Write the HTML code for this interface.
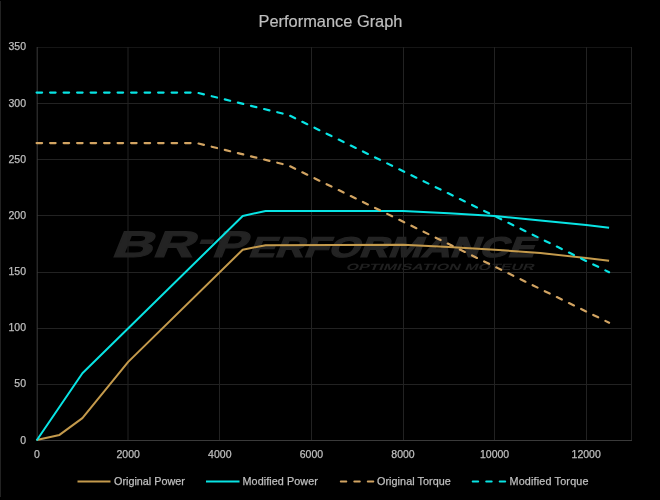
<!DOCTYPE html>
<html><head><meta charset="utf-8">
<style>
html,body{margin:0;padding:0;background:#000;}
body{width:660px;height:500px;overflow:hidden;position:relative;font-family:"Liberation Sans",sans-serif;}
svg{position:absolute;left:0;top:0;will-change:transform;}
text{font-family:"Liberation Sans",sans-serif;}
</style></head>
<body>
<svg width="660" height="500" viewBox="0 0 660 500">
<rect x="0" y="0" width="660" height="500" fill="#000"/>
<rect x="0" y="1" width="1" height="496" fill="#222"/>
<!-- title -->
<text x="330.5" y="27.3" text-anchor="middle" font-size="16.4" fill="#bfbfbf" stroke="#bfbfbf" stroke-width="0.2">Performance Graph</text>
<!-- watermark -->
<g fill="#232323" stroke="#232323" stroke-width="1.1" font-weight="bold">
<g transform="translate(0,256.5) skewX(-22)">
<text x="110.5" y="0" font-size="37" textLength="82" lengthAdjust="spacingAndGlyphs">BR</text>
<rect x="194.5" y="-17" width="13" height="4.6" stroke="none"/>
<text x="211" y="0" font-size="37" textLength="33" lengthAdjust="spacingAndGlyphs">P</text>
<text x="247.5" y="0" font-size="28.5" textLength="286" lengthAdjust="spacingAndGlyphs">ERFORMANCE</text></g>
<g transform="translate(0,269.5) skewX(-22)" stroke="none" fill="#202020"><text x="345.5" y="0" font-size="9.2" textLength="188" lengthAdjust="spacingAndGlyphs">OPTIMISATION MOTEUR</text></g>
</g>
<!-- grid -->
<g stroke="#222" stroke-width="1" fill="none">
<path d="M37 47.5H632" stroke="#151515"/>
<path d="M37 103.5H632M37 159.5H632M37 215.5H632M37 272.5H632M37 328.5H632M37 384.5H632"/>
<path d="M128 47V440M219.5 47V440M311.5 47V440M403.5 47V440M494.5 47V440M586.5 47V440M631.5 47V440"/>
</g>
<g stroke="#3a3a3a" stroke-width="1" fill="none">
<path d="M37.2 47V441M36.5 440.5H632"/>
</g>
<!-- axis labels -->
<g font-size="10.5" fill="#bfbfbf" stroke="#bfbfbf" stroke-width="0.25" text-anchor="end">
<text x="26" y="50.4">350</text>
<text x="26" y="106.5">300</text>
<text x="26" y="162.5">250</text>
<text x="26" y="218.5">200</text>
<text x="26" y="275">150</text>
<text x="26" y="331">100</text>
<text x="26" y="387">50</text>
<text x="26" y="444">0</text>
</g>
<g font-size="10.5" fill="#bfbfbf" stroke="#bfbfbf" stroke-width="0.25" text-anchor="middle">
<text x="36.8" y="458">0</text>
<text x="128.2" y="458">2000</text>
<text x="219.8" y="458">4000</text>
<text x="311.4" y="458">6000</text>
<text x="403" y="458">8000</text>
<text x="494.6" y="458">10000</text>
<text x="586.2" y="458">12000</text>
</g>
<!-- series -->
<g fill="none" stroke-width="2" stroke-linejoin="round">
<polyline id="op" stroke="#c49a4c" points="36.6,439.9 59.5,434.9 82.4,418.1 128.2,361.9 242.7,249.7 265.6,245.2 403.0,244.7 448.8,246.9 494.6,249.7 540.4,253.1 586.2,258.1 609.1,260.7"/>
<polyline id="mp" stroke="#08e4e4" points="36.6,440.5 82.4,373.2 242.7,216.0 265.6,211.0 403.0,211.0 448.8,213.2 494.6,216.0 540.4,220.5 586.2,225.0 609.1,227.8"/>
<polyline id="ot" stroke="#d2a462" stroke-width="2.2" stroke-linecap="round" stroke-dasharray="5.5 8" points="36.6,143.1 196.9,143.1 288.5,165.5 609.1,322.7"/>
<polyline id="mt" stroke="#08e4e4" stroke-width="2.2" stroke-linecap="round" stroke-dasharray="5.5 8" points="36.6,92.6 196.9,92.6 288.5,115.0 609.1,272.2"/>
</g>
<!-- legend -->
<g stroke-width="2" fill="none">
<path d="M77.5 481.5H110.5" stroke="#c49a4c"/>
<path d="M206 481.5H239.5" stroke="#08e4e4"/>
<path d="M340.8 481.5H373.3" stroke="#d2a462" stroke-linecap="round" stroke-dasharray="5.5 8"/>
<path d="M472.7 481.5H505.2" stroke="#08e4e4" stroke-linecap="round" stroke-dasharray="5.5 8"/>
</g>
<g font-size="10.8" fill="#bfbfbf" stroke="#bfbfbf" stroke-width="0.25">
<text x="114" y="485">Original Power</text>
<text x="242.5" y="485" textLength="75.4">Modified Power</text>
<text x="377" y="485" textLength="73.8">Original Torque</text>
<text x="509.5" y="485" textLength="79">Modified Torque</text>
</g>
</svg>
</body></html>
